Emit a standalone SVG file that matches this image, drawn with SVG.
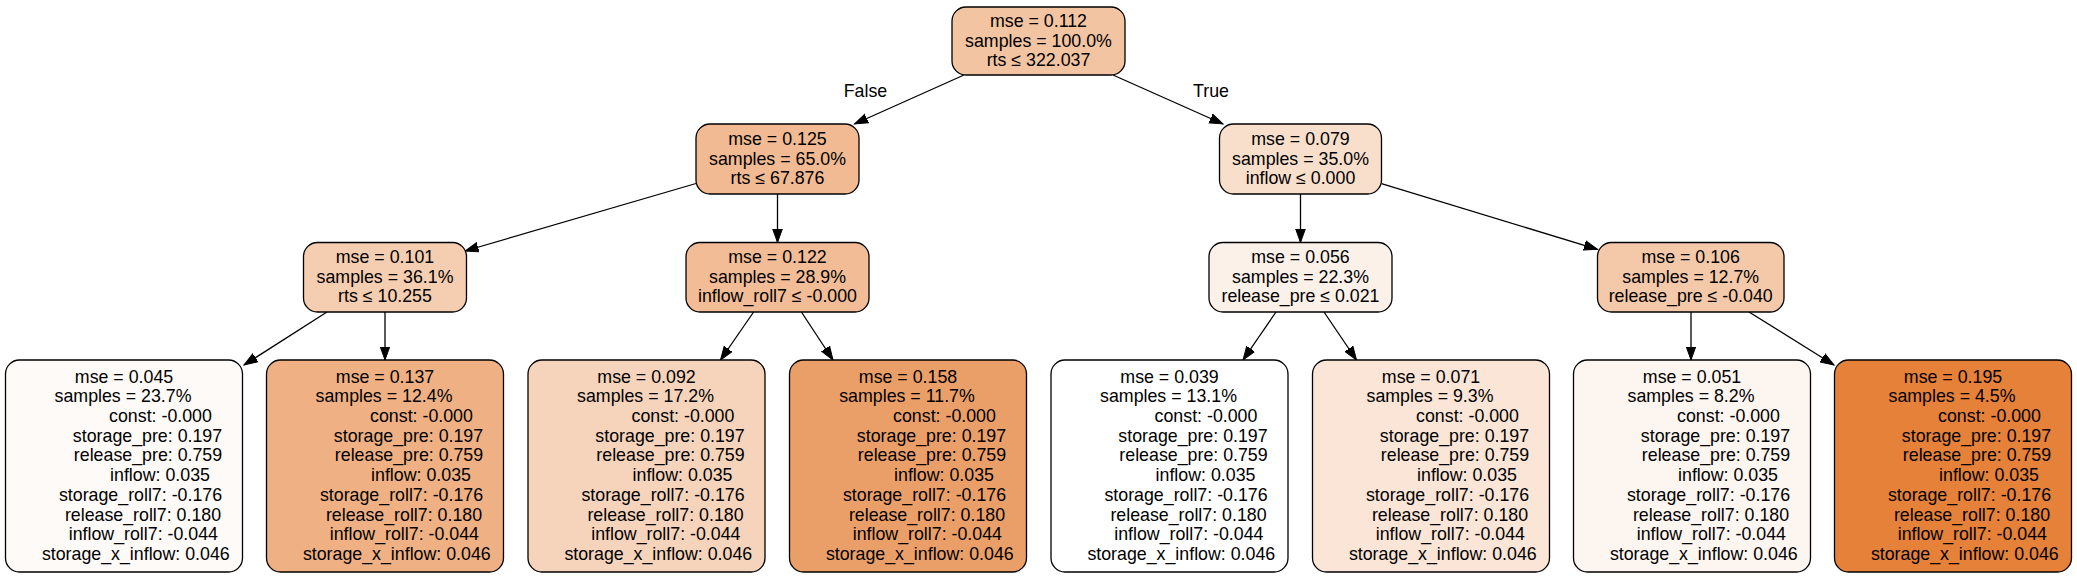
<svg xmlns="http://www.w3.org/2000/svg" width="2077" height="577" viewBox="0 0 2077 577">
<defs>
<marker id="arr" markerUnits="userSpaceOnUse" markerWidth="16" markerHeight="12" refX="13.5" refY="0" viewBox="0 -6 16 12" orient="auto">
<path d="M0,-4.8 L13.5,0 L0,4.8 Z" fill="#000" stroke="#000" stroke-width="1"/>
</marker>
</defs>
<style>
text{font-family:"Liberation Sans",Arial,Helvetica,sans-serif;font-size:17.8px;fill:#000;text-anchor:middle}
rect{stroke:#000;stroke-width:1.3}
.e{stroke:#000;stroke-width:1.3;fill:none;marker-end:url(#arr)}
</style>
<rect width="2077" height="577" fill="#fff" style="stroke:none"/>
<g id="edges">
<line class="e" x1="964" y1="75" x2="854.5" y2="124"/>
<line class="e" x1="1113" y1="75" x2="1223" y2="124"/>
<line class="e" x1="696" y1="183.5" x2="465" y2="251"/>
<line class="e" x1="777.5" y1="194" x2="777.5" y2="242.5"/>
<line class="e" x1="1300.5" y1="194" x2="1300.5" y2="242.5"/>
<line class="e" x1="1381.5" y1="183.7" x2="1597.5" y2="249.3"/>
<line class="e" x1="327" y1="312" x2="244" y2="365"/>
<line class="e" x1="385" y1="312" x2="385" y2="360"/>
<line class="e" x1="753.6" y1="312" x2="720.5" y2="360"/>
<line class="e" x1="801.4" y1="312" x2="833" y2="360"/>
<line class="e" x1="1276" y1="312" x2="1243" y2="360"/>
<line class="e" x1="1324" y1="312" x2="1356.5" y2="360"/>
<line class="e" x1="1691" y1="312" x2="1691" y2="360"/>
<line class="e" x1="1749" y1="312" x2="1834" y2="365"/>
<text x="865.5" y="97.3">False</text>
<text x="1211" y="97.3">True</text>
</g>
<g id="node0">
<rect x="952" y="7" width="173" height="68" rx="14" fill="#f3c4a2"/>
<text x="1038.5" y="26.9">mse = 0.112</text>
<text x="1038.5" y="46.5">samples = 100.0%</text>
<text x="1038.5" y="66.1">rts ≤ 322.037</text>
</g>
<g id="node1">
<rect x="696" y="124" width="163" height="70" rx="14" fill="#f1ba92"/>
<text x="777.5" y="144.9">mse = 0.125</text>
<text x="777.5" y="164.5">samples = 65.0%</text>
<text x="777.5" y="184.1">rts ≤ 67.876</text>
</g>
<g id="node8">
<rect x="1219.5" y="124" width="162" height="70" rx="14" fill="#f8dfcc"/>
<text x="1300.5" y="144.9">mse = 0.079</text>
<text x="1300.5" y="164.5">samples = 35.0%</text>
<text x="1300.5" y="184.1">inflow ≤ 0.000</text>
</g>
<g id="node2">
<rect x="303.5" y="242.5" width="163" height="69.5" rx="14" fill="#f5cdb0"/>
<text x="385" y="263.2">mse = 0.101</text>
<text x="385" y="282.8">samples = 36.1%</text>
<text x="385" y="302.4">rts ≤ 10.255</text>
</g>
<g id="node5">
<rect x="686" y="242.5" width="183" height="69.5" rx="14" fill="#f1bc96"/>
<text x="777.5" y="263.2">mse = 0.122</text>
<text x="777.5" y="282.8">samples = 28.9%</text>
<text x="777.5" y="302.4">inflow_roll7 ≤ -0.000</text>
</g>
<g id="node9">
<rect x="1209" y="242.5" width="183" height="69.5" rx="14" fill="#fcf1e9"/>
<text x="1300.5" y="263.2">mse = 0.056</text>
<text x="1300.5" y="282.8">samples = 22.3%</text>
<text x="1300.5" y="302.4">release_pre ≤ 0.021</text>
</g>
<g id="node12">
<rect x="1597.5" y="242.5" width="186.5" height="69.5" rx="14" fill="#f4c9aa"/>
<text x="1690.7" y="263.2">mse = 0.106</text>
<text x="1690.7" y="282.8">samples = 12.7%</text>
<text x="1690.7" y="302.4">release_pre ≤ -0.040</text>
</g>
<g id="node3" transform="translate(124,0)">
<rect x="-118.5" y="360" width="237" height="212" rx="14" fill="#fefaf7"/>
<text x="0" y="382.6">mse = 0.045</text><text x="-1" y="402.3">samples = 23.7%</text><text x="36.5" y="422">const: -0.000</text><text x="23.5" y="441.7">storage_pre: 0.197</text><text x="24" y="461.4">release_pre: 0.759</text><text x="36" y="481.1">inflow: 0.035</text><text x="16.5" y="500.8">storage_roll7: -0.176</text><text x="19" y="520.5">release_roll7: 0.180</text><text x="19.3" y="540.2">inflow_roll7: -0.044</text><text x="11.8" y="559.9">storage_x_inflow: 0.046</text>
</g>
<g id="node4" transform="translate(385,0)">
<rect x="-118.5" y="360" width="237" height="212" rx="14" fill="#efb083"/>
<text x="0" y="382.6">mse = 0.137</text><text x="-1" y="402.3">samples = 12.4%</text><text x="36.5" y="422">const: -0.000</text><text x="23.5" y="441.7">storage_pre: 0.197</text><text x="24" y="461.4">release_pre: 0.759</text><text x="36" y="481.1">inflow: 0.035</text><text x="16.5" y="500.8">storage_roll7: -0.176</text><text x="19" y="520.5">release_roll7: 0.180</text><text x="19.3" y="540.2">inflow_roll7: -0.044</text><text x="11.8" y="559.9">storage_x_inflow: 0.046</text>
</g>
<g id="node6" transform="translate(646.5,0)">
<rect x="-118.5" y="360" width="237" height="212" rx="14" fill="#f6d4bc"/>
<text x="0" y="382.6">mse = 0.092</text><text x="-1" y="402.3">samples = 17.2%</text><text x="36.5" y="422">const: -0.000</text><text x="23.5" y="441.7">storage_pre: 0.197</text><text x="24" y="461.4">release_pre: 0.759</text><text x="36" y="481.1">inflow: 0.035</text><text x="16.5" y="500.8">storage_roll7: -0.176</text><text x="19" y="520.5">release_roll7: 0.180</text><text x="19.3" y="540.2">inflow_roll7: -0.044</text><text x="11.8" y="559.9">storage_x_inflow: 0.046</text>
</g>
<g id="node7" transform="translate(908,0)">
<rect x="-118.5" y="360" width="237" height="212" rx="14" fill="#eb9f68"/>
<text x="0" y="382.6">mse = 0.158</text><text x="-1" y="402.3">samples = 11.7%</text><text x="36.5" y="422">const: -0.000</text><text x="23.5" y="441.7">storage_pre: 0.197</text><text x="24" y="461.4">release_pre: 0.759</text><text x="36" y="481.1">inflow: 0.035</text><text x="16.5" y="500.8">storage_roll7: -0.176</text><text x="19" y="520.5">release_roll7: 0.180</text><text x="19.3" y="540.2">inflow_roll7: -0.044</text><text x="11.8" y="559.9">storage_x_inflow: 0.046</text>
</g>
<g id="node10" transform="translate(1169.5,0)">
<rect x="-118.5" y="360" width="237" height="212" rx="14" fill="#ffffff"/>
<text x="0" y="382.6">mse = 0.039</text><text x="-1" y="402.3">samples = 13.1%</text><text x="36.5" y="422">const: -0.000</text><text x="23.5" y="441.7">storage_pre: 0.197</text><text x="24" y="461.4">release_pre: 0.759</text><text x="36" y="481.1">inflow: 0.035</text><text x="16.5" y="500.8">storage_roll7: -0.176</text><text x="19" y="520.5">release_roll7: 0.180</text><text x="19.3" y="540.2">inflow_roll7: -0.044</text><text x="11.8" y="559.9">storage_x_inflow: 0.046</text>
</g>
<g id="node11" transform="translate(1431,0)">
<rect x="-118.5" y="360" width="237" height="212" rx="14" fill="#fae5d6"/>
<text x="0" y="382.6">mse = 0.071</text><text x="-1" y="402.3">samples = 9.3%</text><text x="36.5" y="422">const: -0.000</text><text x="23.5" y="441.7">storage_pre: 0.197</text><text x="24" y="461.4">release_pre: 0.759</text><text x="36" y="481.1">inflow: 0.035</text><text x="16.5" y="500.8">storage_roll7: -0.176</text><text x="19" y="520.5">release_roll7: 0.180</text><text x="19.3" y="540.2">inflow_roll7: -0.044</text><text x="11.8" y="559.9">storage_x_inflow: 0.046</text>
</g>
<g id="node13" transform="translate(1692,0)">
<rect x="-118.5" y="360" width="237" height="212" rx="14" fill="#fdf5f0"/>
<text x="0" y="382.6">mse = 0.051</text><text x="-1" y="402.3">samples = 8.2%</text><text x="36.5" y="422">const: -0.000</text><text x="23.5" y="441.7">storage_pre: 0.197</text><text x="24" y="461.4">release_pre: 0.759</text><text x="36" y="481.1">inflow: 0.035</text><text x="16.5" y="500.8">storage_roll7: -0.176</text><text x="19" y="520.5">release_roll7: 0.180</text><text x="19.3" y="540.2">inflow_roll7: -0.044</text><text x="11.8" y="559.9">storage_x_inflow: 0.046</text>
</g>
<g id="node14" transform="translate(1953,0)">
<rect x="-118.5" y="360" width="237" height="212" rx="14" fill="#e58139"/>
<text x="0" y="382.6">mse = 0.195</text><text x="-1" y="402.3">samples = 4.5%</text><text x="36.5" y="422">const: -0.000</text><text x="23.5" y="441.7">storage_pre: 0.197</text><text x="24" y="461.4">release_pre: 0.759</text><text x="36" y="481.1">inflow: 0.035</text><text x="16.5" y="500.8">storage_roll7: -0.176</text><text x="19" y="520.5">release_roll7: 0.180</text><text x="19.3" y="540.2">inflow_roll7: -0.044</text><text x="11.8" y="559.9">storage_x_inflow: 0.046</text>
</g>
</svg>
